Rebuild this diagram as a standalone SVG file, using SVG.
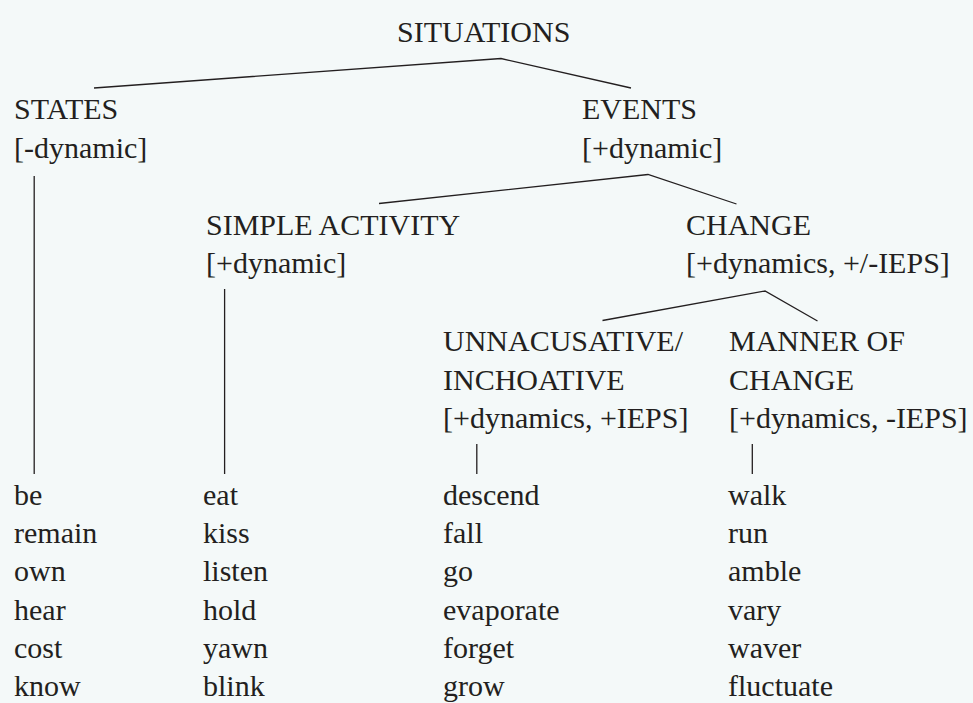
<svg xmlns="http://www.w3.org/2000/svg" width="973" height="703" viewBox="0 0 973 703" font-family="Liberation Serif, Times New Roman, serif">
<style>
text{font-size:30px;fill:#231f20}
.c line,.c polyline{stroke:#231f20;stroke-width:1.3;fill:none}
</style>
<rect width="973" height="703" fill="#f4f9f9"/>
<g class="c" id="connectors">
<polyline points="94,88 501,58.5 631,88"/>
<polyline points="379,203.5 648,174.5 736.5,204"/>
<polyline points="602.5,320.5 765,291 817.5,321"/>
<line x1="34.2" y1="176" x2="34.2" y2="474"/>
<line x1="224.6" y1="289" x2="224.6" y2="474"/>
<line x1="476.8" y1="444" x2="476.8" y2="474"/>
<line x1="752.3" y1="444" x2="752.3" y2="474"/>
</g>
<g id="situations"><text x="397" y="42" font-family="Liberation Serif">SITUATIONS</text></g>
<g id="states"><text x="14" y="119">STATES</text><text x="14" y="158">[-dynamic]</text></g>
<g id="events"><text x="582" y="119">EVENTS</text><text x="582" y="158">[+dynamic]</text></g>
<g id="simple-activity"><text x="206" y="235">SIMPLE ACTIVITY</text><text x="206" y="273">[+dynamic]</text></g>
<g id="change"><text x="686" y="235">CHANGE</text><text x="686" y="273">[+dynamics, +/-IEPS]</text></g>
<g id="unaccusative"><text x="443" y="351">UNNACUSATIVE/</text><text x="443" y="390">INCHOATIVE</text><text x="443" y="428">[+dynamics, +IEPS]</text></g>
<g id="manner"><text x="729" y="351">MANNER OF</text><text x="729" y="390">CHANGE</text><text x="729" y="428">[+dynamics, -IEPS]</text></g>
<g id="states-verbs"><text x="14" y="505">be</text><text x="14" y="543.2">remain</text><text x="14" y="581.4">own</text><text x="14" y="619.6">hear</text><text x="14" y="657.8">cost</text><text x="14" y="696">know</text></g>
<g id="activity-verbs"><text x="203" y="505">eat</text><text x="203" y="543.2">kiss</text><text x="203" y="581.4">listen</text><text x="203" y="619.6">hold</text><text x="203" y="657.8">yawn</text><text x="203" y="696">blink</text></g>
<g id="unaccusative-verbs"><text x="443" y="505">descend</text><text x="443" y="543.2">fall</text><text x="443" y="581.4">go</text><text x="443" y="619.6">evaporate</text><text x="443" y="657.8">forget</text><text x="443" y="696">grow</text></g>
<g id="manner-verbs"><text x="728" y="505">walk</text><text x="728" y="543.2">run</text><text x="728" y="581.4">amble</text><text x="728" y="619.6">vary</text><text x="728" y="657.8">waver</text><text x="728" y="696">fluctuate</text></g>
</svg>
